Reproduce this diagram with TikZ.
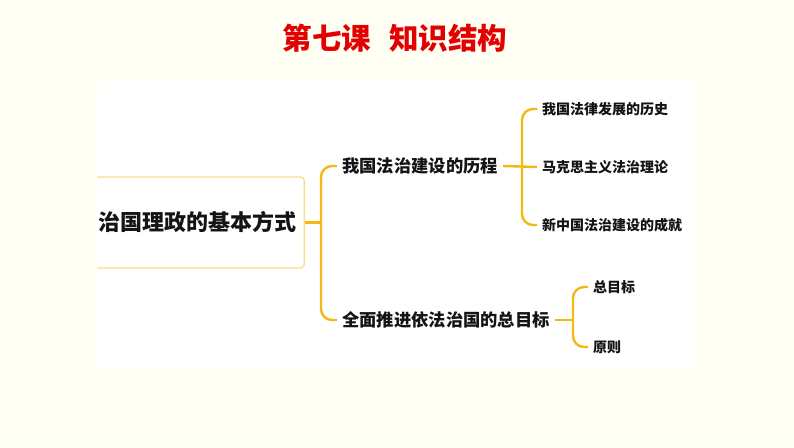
\documentclass[tikz,border=0pt]{standalone}
\usepackage{fontspec}
\usepackage{tikz}
\usetikzlibrary{positioning}
\newfontfamily\cjk{Noto Sans CJK SC}
\definecolor{bgcream}{RGB}{255,255,244}
\definecolor{linkgold}{RGB}{242,184,20}
\definecolor{boxgold}{RGB}{248,222,140}
\definecolor{titlered}{RGB}{226,0,0}
\definecolor{inkdark}{RGB}{20,20,20}
\tikzset{
  link/.style={draw=linkgold, line width=2.4pt, rounded corners=11pt},
  rootbox/.style={draw=boxgold, line width=1.3pt, rounded corners=4pt, fill=white,
    minimum height=91pt, text width=209pt, align=right, inner xsep=8pt,
    font=\cjk\bfseries\fontsize{22}{24}\selectfont, text=inkdark},
  topic/.style={anchor=west, inner xsep=5pt, inner ysep=1pt,
    font=\cjk\bfseries\fontsize{17.3}{19}\selectfont, text=inkdark},
  leaf/.style={anchor=west, inner xsep=5pt, inner ysep=1pt,
    font=\cjk\bfseries\fontsize{14}{16}\selectfont, text=inkdark}
}
\begin{document}
\begin{tikzpicture}[x=1pt, y=-1pt]
\useasboundingbox[fill=bgcream] (0,0) rectangle (794,447);
\fill[white] (97,82) rectangle (695,367);

% title
\node[font=\cjk\bfseries\fontsize{29.5}{32}\selectfont, text=titlered] (title) at (395,38)
  {第七课\hspace{18pt}知识结构};

% root, cut off by the panel on the left
\begin{scope}
\clip (97,82) rectangle (695,367);
\node[rootbox, anchor=east] (root) at (305,222.5) {治国理政的基本方式};
\end{scope}

\node[topic] (hist) at (337,166) {我国法治建设的历程};
\node[topic] (goal) at (337,320) {全面推进依法治国的总目标};

\node[leaf] (law) at (537,109) {我国法律发展的历史};
\node[leaf] (marx) at (537,167) {马克思主义法治理论};
\node[leaf] (gain) at (537,225) {新中国法治建设的成就};

\node[leaf] (aim) at (588,287) {总目标};
\node[leaf] (rule) at (588,347) {原则};

% braces
\draw[link] (root.east) -- (321,222.5) coordinate (r0);
\draw[link] (r0) |- (hist.west);
\draw[link] (r0) |- (goal.west);

\draw[link] (hist.east) -- (marx.west);
\coordinate (h0) at (522,167);
\draw[link] (h0) |- (law.west);
\draw[link] (h0) |- (gain.west);

\draw[link] (goal.east) -- (573,320) coordinate (g0);
\draw[link] (g0) |- (aim.west);
\draw[link] (g0) |- (rule.west);
\end{tikzpicture}
\end{document}
